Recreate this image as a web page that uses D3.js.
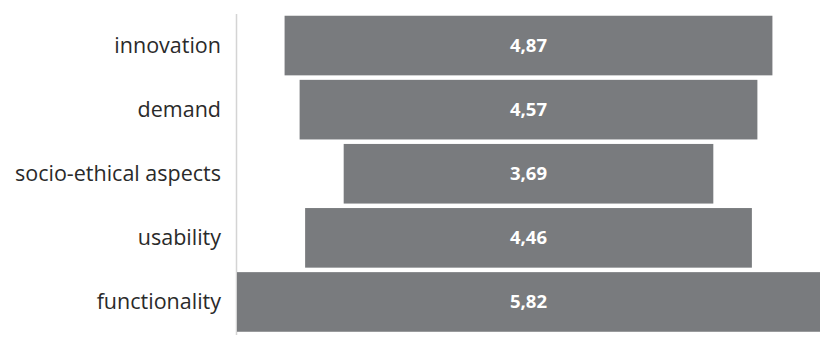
<!DOCTYPE html>
<html><head><meta charset="utf-8">
<script src="https://cdn.jsdelivr.net/npm/d3@7"></script>
<style>body{margin:0;background:#fff}svg{display:block}</style>
</head><body>
<script>
const categories = ["innovation","demand","socio-ethical aspects","usability","functionality"];
const values = [4.87,4.57,3.69,4.46,5.82];
const valueLabels = ["4,87","4,57","3,69","4,46","5,82"];

const W=836,H=350, center=528.5;
const svg=d3.select("body").append("svg").attr("width",W).attr("height",H);
const x=d3.scaleLinear().domain([0,5.82]).range([0,583]);
const y=d3.scaleBand().domain(categories).range([13.5,334]).paddingInner(0.07).paddingOuter(0.035);

svg.append("line").attr("x1",236.5).attr("x2",236.5).attr("y1",14).attr("y2",335)
  .attr("stroke","#d4d4d4").attr("stroke-width",1.5);

const g=svg.selectAll("g.bar").data(categories).enter().append("g");
g.append("rect")
  .attr("x",(d,i)=>center-x(values[i])/2)
  .attr("y",d=>y(d))
  .attr("width",(d,i)=>x(values[i]))
  .attr("height",y.bandwidth())
  .attr("fill","#797b7e");
g.append("text")
  .attr("x",center).attr("y",d=>y(d)+y.bandwidth()/2)
  .attr("dy","0.35em").attr("text-anchor","middle")
  .attr("fill","#fff").attr("font-family","'Open Sans', sans-serif")
  .attr("font-weight","bold").attr("font-size","18.5px")
  .text((d,i)=>valueLabels[i]);
g.append("text")
  .attr("x",221).attr("y",d=>y(d)+y.bandwidth()/2)
  .attr("dy","0.35em").attr("text-anchor","end")
  .attr("fill","#2a2a2a").attr("font-family","'Open Sans', sans-serif")
  .attr("font-size","21.5px")
  .text(d=>d);
</script>
</body></html>
